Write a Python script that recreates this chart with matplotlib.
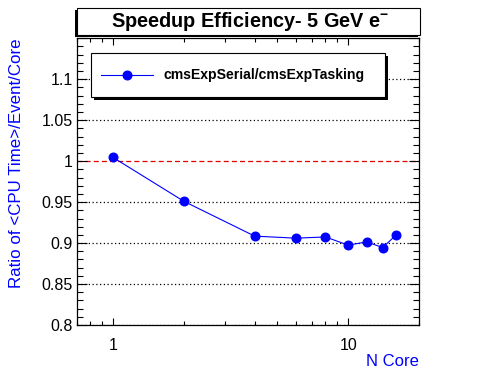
"""
Speedup efficiency of cmsExp, serial vs tasking, ROOT-style canvas.
"""
import numpy as np
import matplotlib
matplotlib.use('Agg')
import matplotlib.pyplot as plt
from matplotlib.patches import Rectangle
from matplotlib.lines import Line2D
from matplotlib.ticker import FixedLocator, NullFormatter, MultipleLocator

plt.rcParams['font.family'] = ['Liberation Sans', 'DejaVu Sans']
plt.rcParams['mathtext.fontset'] = 'custom'
plt.rcParams['mathtext.rm'] = 'Liberation Sans'
plt.rcParams['mathtext.bf'] = 'Liberation Sans:bold'
plt.rcParams['mathtext.default'] = 'bf'

# data
n_core = [1, 2, 4, 6, 8, 10, 12, 14, 16]
ratio = [1.0045, 0.951, 0.9085, 0.906, 0.9075, 0.8975, 0.9015, 0.8945, 0.910]

title = 'Speedup Efficiency- 5 GeV e$^{-}$'
series_name = 'cmsExpSerial/cmsExpTasking'
xlabel = 'N Core'
ylabel = 'Ratio of <CPU Time>/Event/Core'
yticks = [0.8, 0.85, 0.9, 0.95, 1.0, 1.05, 1.1]
ytick_labels = ['0.8', '0.85', '0.9', '0.95', '1', '1.05', '1.1']

W, H = 496, 372
fig = plt.figure(figsize=(W / 100, H / 100), dpi=100)

def fx(px):
    return px / W

def fy(py):
    return 1 - py / H

ax = fig.add_axes([fx(76.7), fy(325), fx(419) - fx(76.7), fy(38.3) - fy(325)])

ax.set_xscale('log')
ax.set_xlim(0.7, 20)
ax.set_ylim(0.8, 1.15)

# grid at y majors, red dashed reference at 1
for y in yticks:
    if y == 1.0:
        continue
    ax.axhline(y, color='black', lw=0.9, ls=(0, (1, 2)), zorder=1)
ax.axhline(1.0, color='#e00000', lw=0.9, ls=(0, (4, 2.5)), zorder=1)

ax.plot(n_core, ratio, color='blue', lw=0.8, marker='o', ms=6.2,
        markeredgecolor='blue', markerfacecolor='blue', zorder=3)

# ticks
ax.xaxis.set_major_locator(FixedLocator([1, 10]))
ax.xaxis.set_minor_locator(FixedLocator([0.7, 0.8, 0.9, 2, 3, 4, 5, 6, 7, 8, 9, 20]))
ax.xaxis.set_minor_formatter(NullFormatter())
ax.set_xticklabels(['1', '10'])
ax.yaxis.set_major_locator(FixedLocator(yticks + [1.15]))
ax.set_yticklabels(ytick_labels + [''])
ax.yaxis.set_minor_locator(MultipleLocator(0.01))

ax.tick_params(axis='both', which='both', direction='in', top=True, right=True,
               width=0.8, labelsize=11.5)
ax.tick_params(axis='x', which='major', length=5, pad=9)
ax.tick_params(axis='x', which='minor', length=3)
ax.tick_params(axis='y', which='major', length=7.5, pad=3)
ax.tick_params(axis='y', which='minor', length=4.3)
for s in ax.spines.values():
    s.set_linewidth(0.9)

# axis titles, aligned to the axis end like ROOT
fig.text(fx(419), fy(362), xlabel, color='blue', fontsize=12, ha='right', va='center')
fig.text(fx(17), fy(38), ylabel, color='blue', fontsize=12.2, rotation=90,
         ha='center', va='top')

# title box with shadow (left/down)
fig.patches.append(Rectangle((fx(75), fy(37)), fx(420) - fx(77), fy(10) - fy(37),
                             transform=fig.transFigure, facecolor='black',
                             edgecolor='none', zorder=1))
fig.patches.append(Rectangle((fx(77), fy(35)), fx(420) - fx(77), fy(8.3) - fy(35),
                             transform=fig.transFigure, facecolor='white',
                             edgecolor='black', lw=0.8, zorder=2))
fig.text(fx(250), fy(21.5), title, fontsize=14.3, fontweight='bold',
         ha='center', va='center', zorder=3)

# legend box with shadow (right/down)
fig.patches.append(Rectangle((fx(94), fy(100)), fx(385) - fx(91), fy(53) - fy(97),
                             transform=fig.transFigure, facecolor='black',
                             edgecolor='none', zorder=4))
fig.patches.append(Rectangle((fx(91), fy(97)), fx(385) - fx(91), fy(53) - fy(97),
                             transform=fig.transFigure, facecolor='white',
                             edgecolor='black', lw=0.8, zorder=5))
fig.lines.append(Line2D([fx(101), fx(153)], [fy(75), fy(75)], transform=fig.transFigure,
                        color='blue', lw=0.8, marker=None, zorder=6))
fig.lines.append(Line2D([fx(127)], [fy(75)], transform=fig.transFigure, color='blue',
                        marker='o', ms=6.2, zorder=7))
fig.text(fx(163), fy(75), series_name, fontsize=10.1, fontweight='bold',
         ha='left', va='center', zorder=7)

plt.savefig('out.png', dpi=100)
